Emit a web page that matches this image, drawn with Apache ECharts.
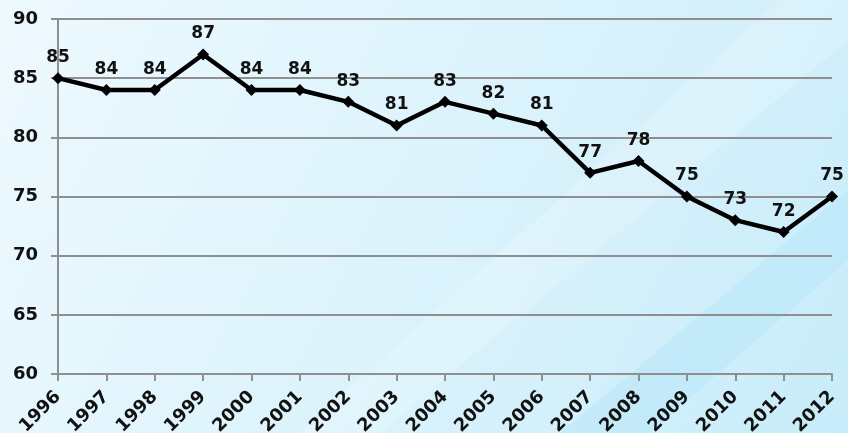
<!DOCTYPE html>
<html>
<head>
<meta charset="utf-8">
<script src="https://cdn.jsdelivr.net/npm/echarts@6/dist/echarts.min.js"></script>
<style>
  html, body { margin: 0; padding: 0; }
  #chart { width: 848px; height: 433px; }
</style>
</head>
<body>
<div id="chart"></div>
<script>
var years = ['1996','1997','1998','1999','2000','2001','2002','2003','2004','2005','2006','2007','2008','2009','2010','2011','2012'];
var values = [85, 84, 84, 87, 84, 84, 83, 81, 83, 82, 81, 77, 78, 75, 73, 72, 75];

var myChart = echarts.init(document.getElementById('chart'));

var option = {
    backgroundColor: {
        type: 'linear', x: 0, y: 0, x2: 1, y2: 1,
        colorStops: [
            { offset: 0, color: '#eef9fe' },
            { offset: 0.5, color: '#dcf3fc' },
            { offset: 1, color: '#c8ecfa' }
        ]
    },
    graphic: [
        { type: 'polygon', silent: true, z: -10,
          shape: { points: [[560, 433], [848, 190], [848, 260], [650, 433]] },
          style: { fill: 'rgba(180,228,248,0.45)' } },
        { type: 'polygon', silent: true, z: -10,
          shape: { points: [[300, 433], [780, 0], [848, 0], [848, 40], [380, 433]] },
          style: { fill: 'rgba(255,255,255,0.18)' } }
    ],
    grid: { left: 58, right: 16, top: 19, bottom: 59, outerBoundsMode: 'none', containLabel: false },
    xAxis: {
        type: 'category',
        data: years,
        boundaryGap: false,
        axisLine: { lineStyle: { color: '#8f8f8f', width: 2 } },
        axisTick: { show: true, length: 7, lineStyle: { color: '#8f8f8f', width: 2 } },
        axisLabel: {
            rotate: 45,
            margin: 20,
            color: '#111',
            fontWeight: 'bold',
            fontSize: 18,
            fontFamily: 'DejaVu Sans'
        },
        splitLine: { show: false }
    },
    yAxis: {
        type: 'value',
        min: 60,
        max: 90,
        interval: 5,
        axisLine: { show: true, lineStyle: { color: '#8f8f8f', width: 2 } },
        axisTick: { show: true, length: 7, lineStyle: { color: '#8f8f8f', width: 2 } },
        axisLabel: {
            margin: 20,
            color: '#111',
            fontWeight: 'bold',
            fontSize: 18,
            fontFamily: 'DejaVu Sans'
        },
        splitLine: { lineStyle: { color: '#8f8f8f', width: 2 } }
    },
    series: [
        {
            type: 'line',
            data: values,
            symbol: 'diamond',
            symbolSize: 12,
            lineStyle: { color: '#000', width: 4.5 },
            itemStyle: { color: '#000' },
            label: {
                show: true,
                position: 'top',
                distance: 6,
                color: '#111',
                fontWeight: 'bold',
                fontSize: 17,
                fontFamily: 'DejaVu Sans'
            }
        }
    ]
};
myChart.setOption(option);
</script>
</body>
</html>
